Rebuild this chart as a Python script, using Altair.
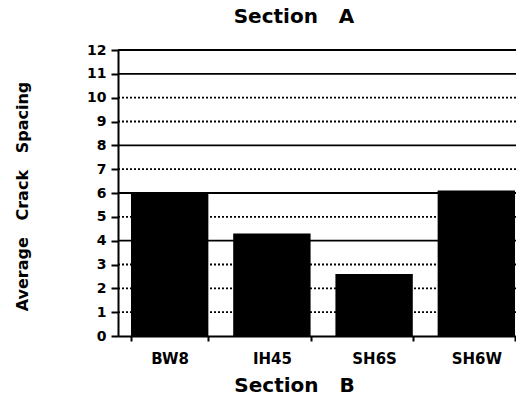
import altair as alt
import pandas as pd

# ---- data ----
sections = ["BW8", "IH45", "SH6S", "SH6W"]
spacing = [6.0, 4.3, 2.6, 6.1]
grid_values = [1, 2, 3, 4, 5, 6, 7, 8, 9, 10, 11, 12]
grid_styles = ["dot", "dot", "dot", "solid", "dot", "solid",
               "dot", "solid", "dot", "dot", "solid", "solid"]
y_ticks = [0, 1, 2, 3, 4, 5, 6, 7, 8, 9, 10, 11, 12]

bars_df = pd.DataFrame({"section": sections, "spacing": spacing})
grid_df = pd.DataFrame({"value": grid_values, "style": grid_styles})

FONT = "DejaVu Sans"
NB = "\u00a0"

y_scale = alt.Scale(domain=[0, 12], nice=False, zero=True)
y_axis = alt.Axis(
    values=y_ticks, grid=False, domainColor="black", domainWidth=2,
    tickColor="black", tickWidth=2, tickSize=7,
    labelFont=FONT, labelFontSize=14, labelFontWeight="bold", labelColor="black",
    labelPadding=5, zindex=1,
    title="Average" + NB * 3 + "Crack" + NB * 3 + "Spacing",
    titleFont=FONT, titleFontSize=16, titleFontWeight="bold", titleColor="black",
    titleAngle=270, titleX=-96, titleY=146, titleAlign="center",
    titleBaseline="middle",
)

grid = alt.Chart(grid_df).mark_rule(color="black", strokeWidth=1.8).encode(
    y=alt.Y("value:Q", scale=y_scale, axis=y_axis),
    strokeDash=alt.StrokeDash(
        "style:N",
        scale=alt.Scale(domain=["solid", "dot"], range=[[1, 0], [2, 2]]),
        legend=None,
    ),
)

bars = alt.Chart(bars_df).mark_bar(color="black").encode(
    x=alt.X(
        "section:N", sort=sections,
        scale=alt.Scale(paddingInner=0.243, paddingOuter=0.127, range=[0, 410]),
        axis=alt.Axis(
            tickBand="extent", labelAngle=0, domainColor="black", domainWidth=2,
            tickColor="black", tickWidth=2, tickSize=5,
            labelFont=FONT, labelFontSize=15, labelFontWeight="bold",
            labelColor="black", labelPadding=10, zindex=1,
            title="Section" + NB * 3 + "B",
            titleFont=FONT, titleFontSize=20, titleFontWeight="bold",
            titleColor="black", titleX=176, titleY=49, titleAlign="center",
            titleBaseline="middle",
        ),
    ),
    y=alt.Y("spacing:Q", scale=y_scale, axis=y_axis),
)

chart = alt.layer(grid, bars).properties(
    width=398,
    height=286,
    autosize=alt.AutoSizeParams(type="none"),
    padding={"left": 110, "top": 42, "right": 0, "bottom": 64},
    title=alt.TitleParams(
        "Section" + NB * 3 + "A", font=FONT, fontSize=20, fontWeight="bold",
        color="black", anchor="middle", dx=-23, dy=10, offset=16, baseline="middle",
    ),
).configure_view(stroke=None).configure(background="white")

chart.save("out.html", embed_options={"renderer": "svg", "actions": False})
